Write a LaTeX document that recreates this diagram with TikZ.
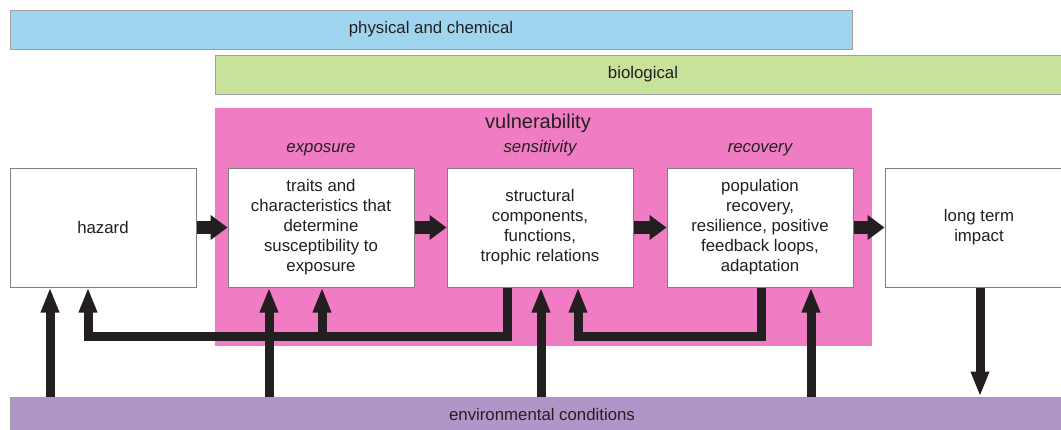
\documentclass[tikz,border=0pt]{standalone}
\usepackage{fontspec}
\setmainfont{Liberation Sans}
\usetikzlibrary{arrows.meta, positioning}
\definecolor{physblue}{HTML}{A0D5F0}
\definecolor{biogreen}{HTML}{C9E299}
\definecolor{vulnpink}{HTML}{F07CC3}
\definecolor{envpurple}{HTML}{B095C8}
\definecolor{flowdark}{HTML}{231F20}
\definecolor{edgegray}{HTML}{A0A0A0}

\begin{document}
\begin{tikzpicture}[x=0.75pt, y=-0.75pt,
		every node/.style={font=\fontsize{12.6}{15}\selectfont, text=flowdark},
		bar/.style={draw=edgegray, line width=0.75pt, minimum height=29.25pt, inner sep=0pt},
		stage/.style={draw=gray, fill=white, line width=0.75pt, minimum width=139.5pt, minimum height=89.25pt, align=center, inner sep=0pt},
		phase/.style={anchor=base, font=\fontsize{12.6}{15}\selectfont\itshape},
		hflow/.style={line width=9.75pt, flowdark, -{Triangle[length=12.75pt, width=18pt]}},
		vflow/.style={line width=6.75pt, flowdark, -{Triangle[length=18.75pt, width=12.75pt]}}]
		\useasboundingbox (0,0) rectangle (1061,429);
		
		\node[bar, fill=physblue, minimum width=631.5pt] (phys) at (431,29.5) {physical and chemical};
		\node[bar, fill=biogreen, minimum width=642pt] (bio) at (643,74.5) {biological};
		\node[bar, fill=envpurple, minimum width=798pt, minimum height=25.5pt] (env) at (542,414) {environmental conditions};
		
		\fill[vulnpink] (215,108) rectangle (872,346);
		\node (vuln) at (538,128.5) [anchor=base, font=\fontsize{15}{18}\selectfont] {vulnerability};
		\node[phase] (expolbl) at (321,152) {exposure};
		\node[phase] (senslbl) at (540,152) {sensitivity};
		\node[phase] (recolbl) at (760,152) {recovery};
		
		\node[stage] (hazard) at (103,227.5) {hazard};
		\node[stage] (expo) at (321,227.5) {traits and\\characteristics that\\determine\\susceptibility to\\exposure};
		\node[stage] (sens) at (540,227.5) {structural\\components,\\functions,\\trophic relations};
		\node[stage] (reco) at (760,227.5) {population\\recovery,\\resilience, positive\\feedback loops,\\adaptation};
		\node[stage, minimum width=141pt] (longt) at (979,227.5) {long term\\impact};
		
		\draw[hflow] (hazard) -- (expo);
		\draw[hflow] (expo) -- (sens);
		\draw[hflow] (sens) -- (reco);
		\draw[hflow] (reco) -- (longt);
		
		% feedback loops
		\draw[vflow] (sens.south -| 507,0) |- (88,336) -- (hazard.south -| 88,0);
		\draw[vflow] (322,336) -- (expo.south -| 322,0);
		\draw[vflow] (reco.south -| 761,0) |- (578,336) -- (sens.south -| 578,0);
		
		% environmental conditions
		\draw[vflow] (env.north -| 50,0) -- (hazard.south -| 50,0);
		\draw[vflow] (env.north -| 269,0) -- (expo.south -| 269,0);
		\draw[vflow] (env.north -| 541,0) -- (sens.south -| 541,0);
		\draw[vflow] (env.north -| 811,0) -- (reco.south -| 811,0);
		\draw[vflow] (longt.south -| 980,0) -- (env.north -| 980,0);
\end{tikzpicture}
\end{document}
